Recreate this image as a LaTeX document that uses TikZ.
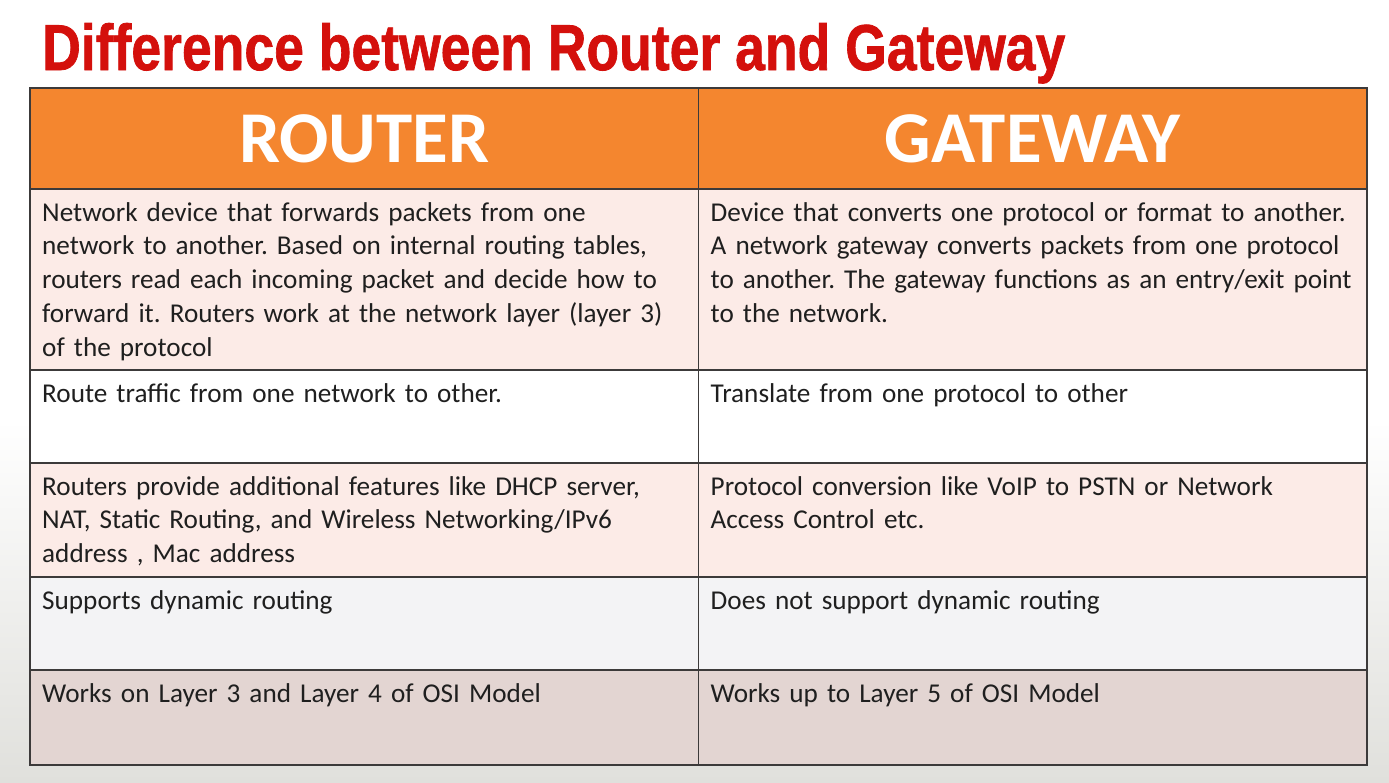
\documentclass[tikz,border=0pt]{standalone}
\usepackage{graphicx}
\usepackage{fontspec}
\setmainfont{Carlito}
\newfontfamily\titlefont[BoldFeatures={FakeBold=1.2}]{Liberation Sans}
\usetikzlibrary{positioning}
\definecolor{titlered}{HTML}{D4100C}
\definecolor{headorange}{HTML}{F4862F}
\definecolor{gridline}{HTML}{3C3A3A}
\definecolor{rowpink}{HTML}{FCEBE7}
\definecolor{rowwhite}{HTML}{FFFFFF}
\definecolor{rowgray}{HTML}{F3F3F5}
\definecolor{rowdark}{HTML}{E3D5D2}
\definecolor{bggray}{HTML}{E0E0DC}
\frenchspacing

\begin{document}
\begin{tikzpicture}[x=1pt, y=-1pt,
	cell/.style={draw=gridline, line width=1.3pt, minimum width=668.5pt, inner sep=0pt, outer sep=0pt, anchor=north west},
	headcell/.style={cell, fill=headorange, minimum height=101pt},
	headtext/.style={inner sep=0pt, text=white, font=\fontsize{73}{73}\selectfont\bfseries},
	celltext/.style={anchor=north west, inner sep=0pt, text width=650pt, align=left, text=black!88, font=\fontsize{27.2}{33.7}\selectfont, execute at begin node=\strut}]
	\useasboundingbox (0,0) rectangle (1389,782);
	\fill[white] (0,0) rectangle (1389,782);
	\shade[top color=white, bottom color=bggray] (0,420) rectangle (1389,782);
	\node [anchor=base west, inner sep=0pt, text=titlered] (title) at (42,70) {\resizebox{1023pt}{47pt}{\titlefont\bfseries Difference between Router and Gateway}};
	\node [headcell] (hA) at (30,88) {};
	\node [headcell, right=0pt of hA] (hB) {};
	\node [headtext] at ([yshift=-0.5pt]hA.center) {ROUTER};
	\node [headtext] at ([yshift=-0.5pt]hB.center) {GATEWAY};
	\node [cell, fill=rowpink, minimum height=181pt, below=0pt of hA] (rA1) {};
	\node [cell, fill=rowpink, minimum height=181pt, below=0pt of hB] (rB1) {};
	\node [cell, fill=rowwhite, minimum height=93pt, below=0pt of rA1] (rA2) {};
	\node [cell, fill=rowwhite, minimum height=93pt, below=0pt of rB1] (rB2) {};
	\node [cell, fill=rowpink, minimum height=114pt, below=0pt of rA2] (rA3) {};
	\node [cell, fill=rowpink, minimum height=114pt, below=0pt of rB2] (rB3) {};
	\node [cell, fill=rowgray, minimum height=93pt, below=0pt of rA3] (rA4) {};
	\node [cell, fill=rowgray, minimum height=93pt, below=0pt of rB3] (rB4) {};
	\node [cell, fill=rowdark, minimum height=95pt, below=0pt of rA4] (rA5) {};
	\node [cell, fill=rowdark, minimum height=95pt, below=0pt of rB4] (rB5) {};
	\node [celltext] (tA1) at ([xshift=12pt, yshift=-8.5pt]rA1.north west) {Network device that forwards packets from one \\ network to another. Based on internal routing tables, \\ routers read each incoming packet and decide how to \\ forward it. Routers work at the network layer (layer 3) \\ of the protocol};
	\node [celltext] (tB1) at ([xshift=12pt, yshift=-8.5pt]rB1.north west) {Device that converts one protocol or format to another. \\ A network gateway converts packets from one protocol \\ to another. The gateway functions as an entry/exit point \\ to the network.};
	\node [celltext] (tA2) at ([xshift=12pt, yshift=-8.5pt]rA2.north west) {Route traffic from one network to other.};
	\node [celltext] (tB2) at ([xshift=12pt, yshift=-8.5pt]rB2.north west) {Translate from one protocol to other};
	\node [celltext] (tA3) at ([xshift=12pt, yshift=-8.5pt]rA3.north west) {Routers provide additional features like DHCP server, \\ NAT, Static Routing, and Wireless Networking/IPv6 \\ address , Mac address};
	\node [celltext] (tB3) at ([xshift=12pt, yshift=-8.5pt]rB3.north west) {Protocol conversion like VoIP to PSTN or Network \\ Access Control etc.};
	\node [celltext] (tA4) at ([xshift=12pt, yshift=-8.5pt]rA4.north west) {Supports dynamic routing};
	\node [celltext] (tB4) at ([xshift=12pt, yshift=-8.5pt]rB4.north west) {Does not support dynamic routing};
	\node [celltext] (tA5) at ([xshift=12pt, yshift=-8.5pt]rA5.north west) {Works on Layer 3 and Layer 4 of OSI Model};
	\node [celltext] (tB5) at ([xshift=12pt, yshift=-8.5pt]rB5.north west) {Works up to Layer 5 of OSI Model};
\end{tikzpicture}
\end{document}
